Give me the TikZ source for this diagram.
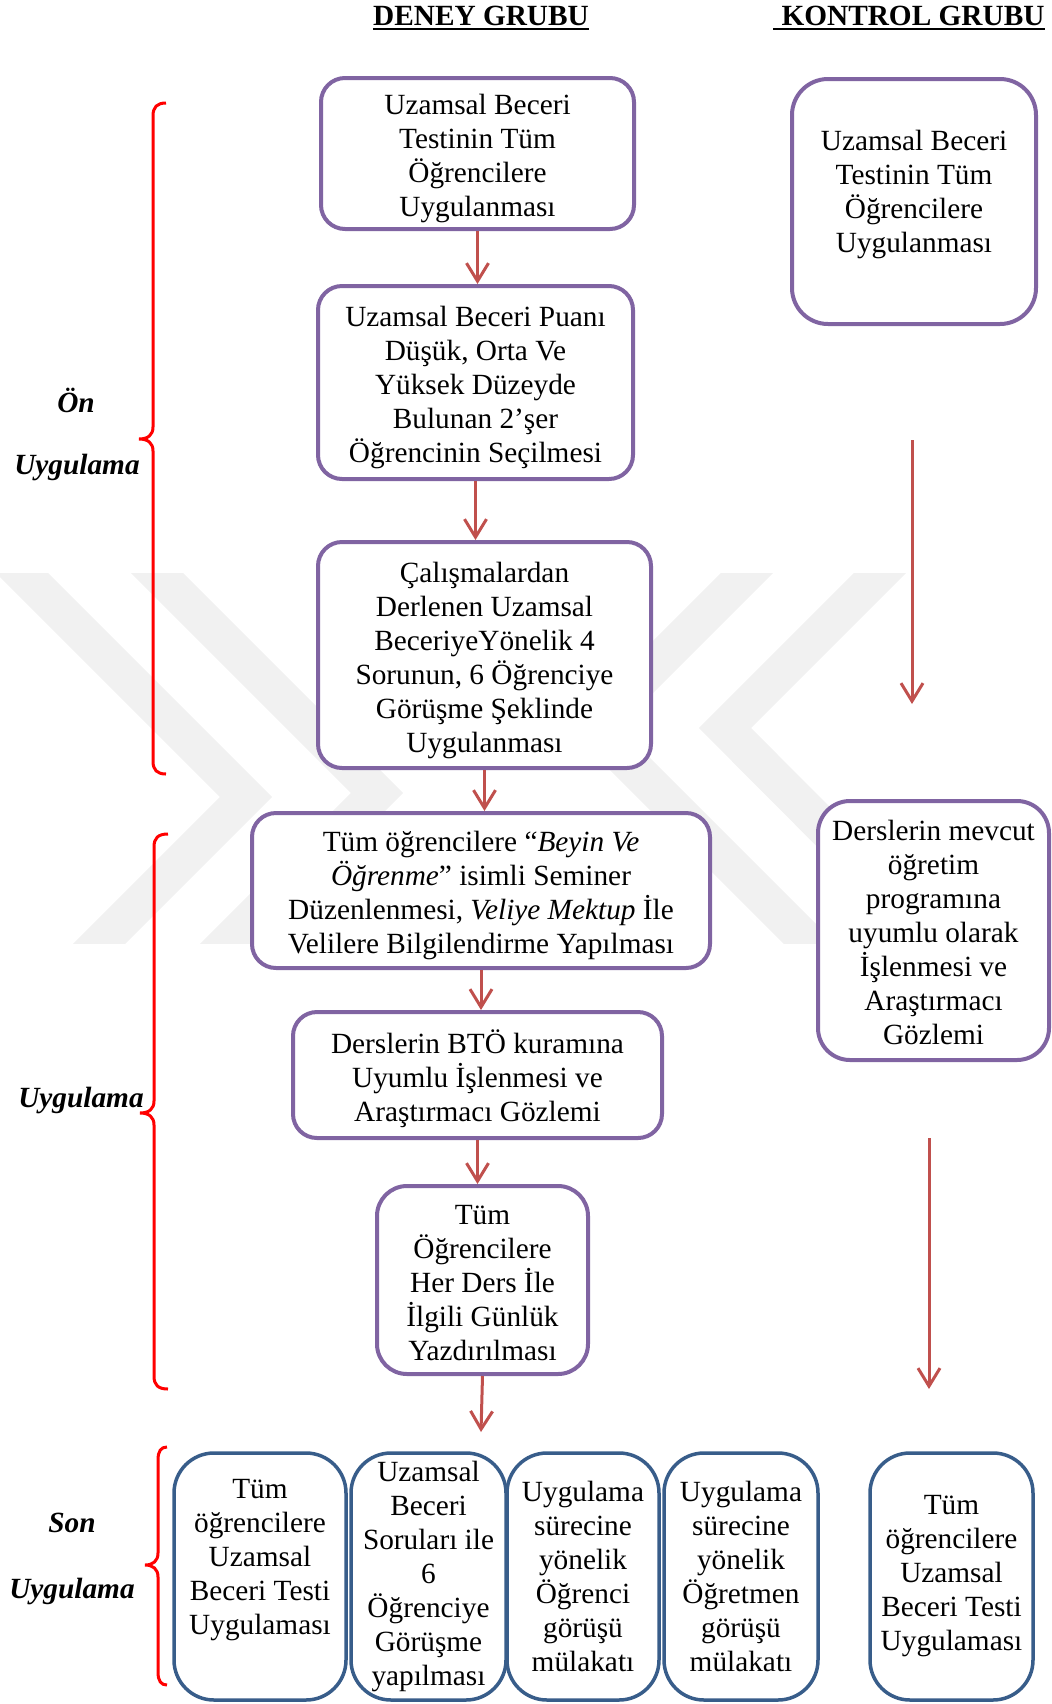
\documentclass[tikz,border=0pt]{standalone}
\usepackage{fontspec}
\setmainfont{Liberation Serif}
\usetikzlibrary{arrows.meta}
\definecolor{boxpurple}{HTML}{8064A2}
\definecolor{boxblue}{HTML}{385D8A}
\definecolor{arrred}{HTML}{C0504D}
\definecolor{brred}{HTML}{FF0000}
\definecolor{wmgray}{HTML}{F1F1F1}
\newcommand\ts{\rule{0pt}{15.5pt}}
\newcommand\bs{\rule[-3.3pt]{0pt}{0pt}}
\begin{document}
\begin{tikzpicture}[x=0.5pt,y=-0.5pt,
  every node/.style={font=\fontsize{14.65pt}{17pt}\selectfont},
  pbox/.style={draw=boxpurple,line width=2pt,rounded corners=12pt,fill=white,align=center,inner sep=0pt},
  ptext/.style={align=center,inner sep=0pt},
  bbox/.style={draw=boxblue,line width=1.75pt,rounded corners=20pt,fill=white,align=center,inner sep=0pt,minimum height=123.5pt},
  flow/.style={draw=arrred,line width=1.5pt,-{Straight Barb[length=9pt,width=11pt]}},
  brace/.style={draw=brred,line width=1.5pt},
  lab/.style={font=\fontsize{14.65pt}{17pt}\selectfont\bfseries\itshape,inner sep=0pt},
  hdr/.style={font=\fontsize{14.65pt}{17pt}\selectfont\bfseries,inner sep=0pt,anchor=base},
  wm/.style={draw=wmgray,line width=18.5pt,line join=miter}
]
\useasboundingbox (0,0) rectangle (1052,1704);

% watermark
\begin{scope}
  \clip (0,573) rectangle (1052,943);
  \draw[wm] (-11,540) -- (246,797) -- (63,980);
  \draw[wm] (124,540) -- (377,793) -- (190,980);
  \draw[wm] (780,540) -- (593,727) -- (846,980);
  \draw[wm] (913,540) -- (725,728) -- (976,980);
\end{scope}

% headers
\node[hdr] (hd) at (481,25) {DENEY GRUBU};
\node[hdr] (hk) at (913,25) {KONTROL GRUBU};
\draw[line width=1pt] ([yshift=-2.2pt]hd.base west) -- ([yshift=-2.2pt]hd.base east);
\draw[line width=1pt] ([xshift=-4pt,yshift=-2.2pt]hk.base west) -- ([yshift=-2.2pt]hk.base east);

% deney grubu
\node[pbox,minimum width=156.5pt,minimum height=75.5pt] (d1) at (477.5,153.5)
  {\ts Uzamsal Beceri\\Testinin Tüm\\Öğrencilere\\Uygulanması\bs};
\node[pbox,minimum width=157.5pt,minimum height=96.5pt] (d2) at (475.5,382.5)
  {\ts Uzamsal Beceri Puanı\\Düşük, Orta Ve\\Yüksek Düzeyde\\Bulunan 2’şer\\Öğrencinin Seçilmesi\bs};
\node[pbox,minimum width=166.5pt,minimum height=113pt] (d3) at (484.5,655)
  {\ts Çalışmalardan\\Derlenen Uzamsal\\BeceriyeYönelik 4\\Sorunun, 6 Öğrenciye\\Görüşme Şeklinde\\Uygulanması\bs};
\node[pbox,minimum width=229pt,minimum height=77.5pt] (d4) at (481,890.5)
  {\ts Tüm öğrencilere “\textit{Beyin Ve}\\\textit{Öğrenme}” isimli Seminer\\Düzenlenmesi, \textit{Veliye Mektup} İle\\Velilere Bilgilendirme Yapılması\bs};
\node[pbox,minimum width=184.5pt,minimum height=63pt] (d5) at (477.5,1075)
  {\ts Derslerin BTÖ kuramına\\Uyumlu İşlenmesi ve\\Araştırmacı Gözlemi\bs};
\node[pbox,minimum width=105.5pt,minimum height=94pt,rounded corners=15pt] (d6) at (482.5,1280)
  {\ts Tüm\\Öğrencilere\\Her Ders İle\\İlgili Günlük\\Yazdırılması\bs};
\coordinate (d6e) at (481,1432);

\draw[flow] (d1.south) -- (d1.south |- d2.north);
\draw[flow] (d2.south) -- (d2.south |- d3.north);
\draw[flow] (d3.south) -- (d3.south |- d4.north);
\draw[flow] (d4.south) -- (d4.south |- d5.north);
\draw[flow] (d5.south) -- (d5.south |- d6.north);
\draw[flow] (d6.south) -- (d6e);

% kontrol grubu
\node[pbox,minimum width=122pt,minimum height=122.5pt,rounded corners=18pt] (k1) at (914,201.5) {};
\node[ptext] (k1t) at (914,189)
  {\ts Uzamsal Beceri\\Testinin Tüm\\Öğrencilere\\Uygulanması\bs};
\node[pbox,minimum width=115.5pt,minimum height=129.5pt,rounded corners=16pt] (k2) at (933.5,930.5)
  {\ts Derslerin mevcut\\öğretim\\programına\\uyumlu olarak\\İşlenmesi ve\\Araştırmacı\\Gözlemi\bs};
\coordinate (ka1) at (912,440);
\coordinate (kb1) at (912,704);
\coordinate (ka2) at (929,1138);
\coordinate (kb2) at (929,1389);
\draw[flow] (ka1) -- (kb1);
\draw[flow] (ka2) -- (kb2);

% son uygulama
\node[bbox,minimum width=86pt] (s1) at (260,1576.5) {};
\node[align=center,inner sep=0pt] (s1t) at (260,1560)
  {Tüm\\öğrencilere\\Uzamsal\\Beceri Testi\\Uygulaması};
\node[bbox,minimum width=77.5pt] (s2) at (428.5,1576.5)
  {Uzamsal\\Beceri\\Soruları ile\\6\\Öğrenciye\\Görüşme\\yapılması};
\node[bbox,minimum width=76pt] (s3) at (583,1576.5)
  {Uygulama\\sürecine\\yönelik\\Öğrenci\\görüşü\\mülakatı};
\node[bbox,minimum width=77pt] (s4) at (741,1576.5)
  {Uygulama\\sürecine\\yönelik\\Öğretmen\\görüşü\\mülakatı};
\node[bbox,minimum width=81.5pt] (s5) at (951.5,1576.5)
  {Tüm\\öğrencilere\\Uzamsal\\Beceri Testi\\Uygulaması};

% phase labels
\node[lab] (on1) at (76,400) {Ön};
\node[lab] (on2) at (77,467) {Uygulama};
\node[lab] (uy) at (81,1100) {Uygulama};
\node[lab] (so1) at (72,1523) {Son};
\node[lab] (so2) at (72,1591) {Uygulama};

% braces
\draw[brace] (166,103) .. controls (157,103) and (153,107) .. (153,116) -- (153,427)
  .. controls (153,435) and (148,439) .. (139,439)
  .. controls (148,439) and (153,443) .. (153,451) -- (153,761)
  .. controls (153,770) and (157,774) .. (166,774);
\draw[brace] (168,834) .. controls (158,834) and (154,838) .. (154,847) -- (154,1101)
  .. controls (154,1109) and (149,1113) .. (140,1113)
  .. controls (149,1113) and (154,1117) .. (154,1125) -- (154,1376)
  .. controls (154,1385) and (158,1389) .. (168,1389);
\draw[brace] (167,1447) .. controls (161,1447) and (158,1451) .. (158,1460) -- (158,1553)
  .. controls (158,1561) and (153,1565) .. (145,1565)
  .. controls (153,1565) and (158,1569) .. (158,1577) -- (158,1672)
  .. controls (158,1681) and (161,1685) .. (167,1685);
\end{tikzpicture}
\end{document}
